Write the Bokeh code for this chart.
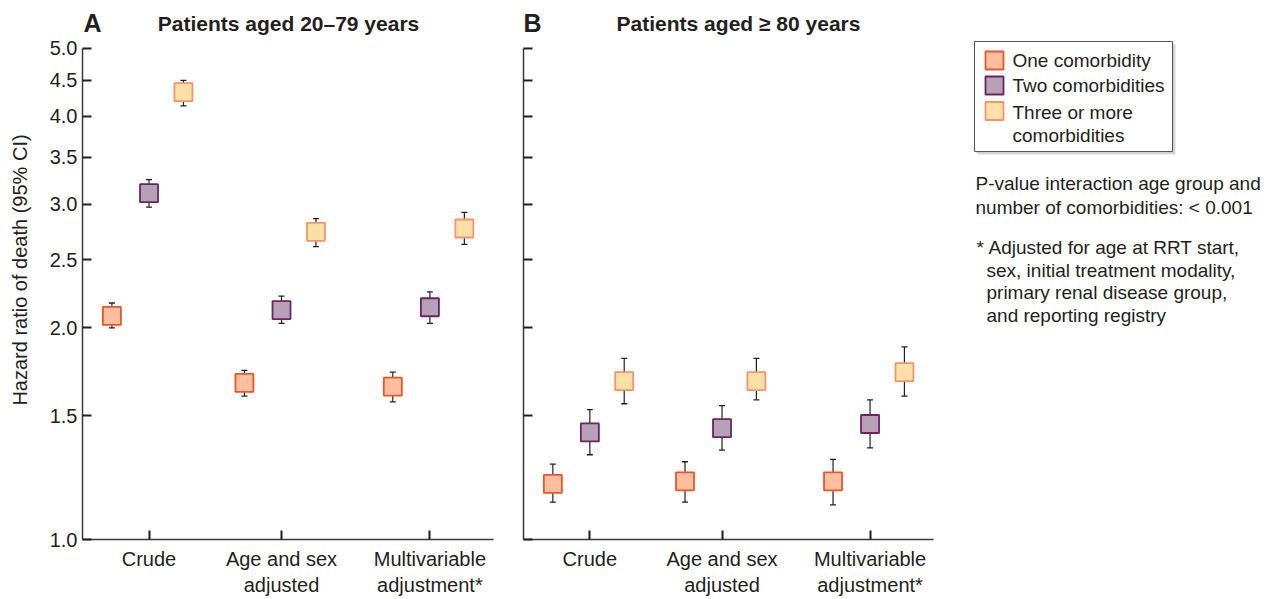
import math
from bokeh.plotting import figure
from bokeh.layouts import row
from bokeh.models import Range1d, FixedTicker, Label, ColumnDataSource
from bokeh.embed import file_html
from bokeh.resources import INLINE
from bokeh.core.properties import value

# ---------------- data ----------------
adjustments = ["Crude", "Age and sex\nadjusted", "Multivariable\nadjustment*"]
series_names = ["One comorbidity", "Two comorbidities", "Three or more\ncomorbidities"]

# Patients aged 20-79 years: hazard ratio, lower CI, upper CI per adjustment
a_one_hr = [2.08, 1.67, 1.65]
a_one_lo = [2.00, 1.60, 1.57]
a_one_hi = [2.17, 1.74, 1.73]
a_two_hr = [3.11, 2.12, 2.14]
a_two_lo = [2.97, 2.03, 2.03]
a_two_hi = [3.25, 2.22, 2.25]
a_three_hr = [4.33, 2.74, 2.77]
a_three_lo = [4.14, 2.61, 2.63]
a_three_hi = [4.50, 2.86, 2.92]

# Patients aged >= 80 years
b_one_hr = [1.20, 1.21, 1.21]
b_one_lo = [1.13, 1.13, 1.12]
b_one_hi = [1.28, 1.29, 1.30]
b_two_hr = [1.42, 1.44, 1.46]
b_two_lo = [1.32, 1.34, 1.35]
b_two_hi = [1.53, 1.55, 1.58]
b_three_hr = [1.68, 1.68, 1.73]
b_three_lo = [1.56, 1.58, 1.60]
b_three_hi = [1.81, 1.81, 1.88]

y_ticks = [1.0, 1.5, 2.0, 2.5, 3.0, 3.5, 4.0, 4.5, 5.0]

p_value_note = ["P-value interaction age group and", "number of comorbidities: < 0.001"]
adjust_mark = "*"
adjust_note = ["Adjusted for age at RRT start,", "sex, initial treatment modality,",
               "primary renal disease group,", "and reporting registry"]

# ---------------- styles / layout ----------------
FONT = "Liberation Sans"
TXT = "#231f20"
FILLS = ["#fbbfa0", "#b6a1b8", "#fde0a8"]
LINES = ["#e9562a", "#6a2462", "#f2956a"]
GROUP_X = [1.0, 2.0, 3.12]
OFFSETS = [-0.28, 0.0, 0.26]
H = 599
BOTTOM = 60              # space under the frame for the category labels
FRAME_H = H - BOTTOM     # frame reaches the top of the canvas; titles are drawn inside it
AXIS_PX = 491.3          # pixel height of the 1.0 .. 5.0 axis
Y_TOP = math.exp(FRAME_H / AXIS_PX * math.log(5.0))


def make_panel(width, border_left, border_right, series, show_labels, letter, title, title_x):
    p = figure(width=width, height=H, y_axis_type="log", output_backend="svg", title=None,
               toolbar_location=None, x_range=Range1d(0.498, 3.600), y_range=Range1d(1.0, Y_TOP),
               min_border_left=border_left, min_border_right=border_right,
               min_border_top=0, min_border_bottom=BOTTOM)
    p.outline_line_color = None
    p.grid.visible = False
    p.background_fill_color = "white"
    p.border_fill_color = "white"

    for k, (hr, lo, hi) in enumerate(series):
        xs = [g + OFFSETS[k] for g in GROUP_X]
        src = ColumnDataSource(dict(x=xs, hr=hr, lo=lo, hi=hi))
        p.segment(x0="x", y0="lo", x1="x", y1="hi", source=src, line_color=TXT, line_width=1.2)
        p.scatter(x="x", y="lo", source=src, marker="dash", size=6, line_color=TXT, line_width=1.3)
        p.scatter(x="x", y="hi", source=src, marker="dash", size=6, line_color=TXT, line_width=1.3)
        p.scatter(x="x", y="hr", source=src, marker="square", size=18,
                  fill_color=FILLS[k], line_color=LINES[k], line_width=1.8)

    # y axis
    ya = p.yaxis[0]
    ya.ticker = FixedTicker(ticks=y_ticks, minor_ticks=[])
    ya.bounds = (1.0, 5.0)
    ya.major_tick_in = 9
    ya.major_tick_out = 0
    ya.minor_tick_line_color = None
    ya.axis_line_color = "#3a3a3a"
    ya.axis_line_width = 1.5
    ya.major_tick_line_color = TXT
    ya.major_tick_line_width = 2
    if show_labels:
        ya.major_label_overrides = {t: f"{t:.1f}" for t in y_ticks}
        ya.major_label_text_font = FONT
        ya.major_label_text_font_size = "20px"
        ya.major_label_text_color = TXT
        ya.major_label_standoff = 5
        ya.axis_label = "Hazard ratio of death (95% CI)"
        ya.axis_label_text_font = FONT
        ya.axis_label_text_font_size = "20px"
        ya.axis_label_text_font_style = "normal"
        ya.axis_label_text_color = TXT
        ya.axis_label_standoff = 16
    else:
        ya.major_label_overrides = {t: "" for t in y_ticks}
        ya.major_label_standoff = 0

    # x axis
    xa = p.xaxis[0]
    xa.ticker = FixedTicker(ticks=GROUP_X, minor_ticks=[])
    xa.major_label_overrides = {g: lab for g, lab in zip(GROUP_X, adjustments)}
    xa.major_tick_in = 9
    xa.major_tick_out = 0
    xa.minor_tick_line_color = None
    xa.axis_line_color = "#3a3a3a"
    xa.axis_line_width = 1.5
    xa.major_tick_line_color = TXT
    xa.major_tick_line_width = 2
    xa.major_label_text_font = FONT
    xa.major_label_text_font_size = "20px"
    xa.major_label_text_color = TXT
    xa.major_label_standoff = 8

    p.add_layout(Label(x=letter[0], y=FRAME_H - 22, x_units="screen", y_units="screen", text=letter[1],
                       text_font=FONT, text_font_size="25px", text_font_style="bold",
                       text_color=TXT, text_baseline="middle", text_align="left"))
    p.add_layout(Label(x=title_x, y=FRAME_H - 23, x_units="screen", y_units="screen", text=title,
                       text_font=FONT, text_font_size="21px", text_font_style="bold",
                       text_color=TXT, text_baseline="middle", text_align="center"))
    return p


pA = make_panel(508, 82, 15,
                [(a_one_hr, a_one_lo, a_one_hi), (a_two_hr, a_two_lo, a_two_hi),
                 (a_three_hr, a_three_lo, a_three_hi)],
                True, (1, "A"), "Patients aged 20–79 years", 206)
pB = make_panel(442, 15, 17,
                [(b_one_hr, b_one_lo, b_one_hi), (b_two_hr, b_two_lo, b_two_hi),
                 (b_three_hr, b_three_lo, b_three_hi)],
                False, (0, "B"), "Patients aged ≥ 80 years", 215)

# ---------------- legend / notes panel ----------------
WC = 314
pC = figure(width=WC, height=H, output_backend="svg", toolbar_location=None, title=None,
            x_range=Range1d(0, WC), y_range=Range1d(FRAME_H, 0),
            min_border_left=0, min_border_right=0, min_border_top=0, min_border_bottom=BOTTOM)
pC.axis.visible = False
pC.grid.visible = False
pC.outline_line_color = None

# legend frame with soft shadow
pC.quad(left=[27], right=[225], top=[44], bottom=[154], fill_color="#b0b0b0", line_color=None, alpha=0.5)
pC.quad(left=[25.5], right=[223.5], top=[42.5], bottom=[152.5], fill_color="#c8c8c8", line_color=None, alpha=0.6)
pC.quad(left=[24], right=[222], top=[41], bottom=[151], fill_color="white", line_color="#555555", line_width=1)

leg_sq_y = [60, 85, 110.5]
for k, name in enumerate(series_names):
    pC.rect(x=[44], y=[leg_sq_y[k]], width=18, height=18, fill_color=FILLS[k],
            line_color=LINES[k], line_width=1.8)
leg_lines = [s for name in series_names for s in name.split("\n")]
pC.text(x=[62] * 4, y=[60, 85, 111.5, 135], text=leg_lines, text_font=value(FONT), text_font_size="19px",
        text_color=TXT, text_baseline="middle", text_align="left")

pC.text(x=[25, 25], y=[183, 207], text=p_value_note, text_font=value(FONT), text_font_size="19px",
        text_color=TXT, text_baseline="middle", text_align="left")
pC.text(x=[26], y=[247], text=[adjust_mark], text_font=value(FONT), text_font_size="19px",
        text_color=TXT, text_baseline="middle", text_align="left")
pC.text(x=[38, 36, 36, 36], y=[247, 269.5, 292, 315], text=adjust_note, text_font=value(FONT),
        text_font_size="19px", text_color=TXT, text_baseline="middle", text_align="left")

layout = row(pA, pB, pC)
open("out.html", "w").write(file_html(layout, INLINE))
